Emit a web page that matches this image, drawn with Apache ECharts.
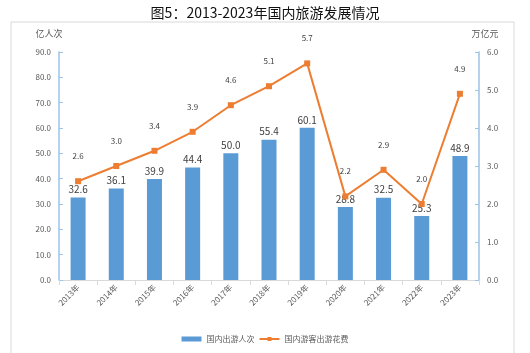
<!DOCTYPE html>
<html>
<head>
<meta charset="utf-8">
<script src="https://cdn.jsdelivr.net/npm/echarts@6/dist/echarts.min.js"></script>
<style>
  html, body { margin: 0; padding: 0; background: #fff; }
  #chart { width: 530px; height: 353px; }
</style>
</head>
<body>
<div id="chart"></div>
<script>
  const years = ["2013年", "2014年", "2015年", "2016年", "2017年", "2018年", "2019年", "2020年", "2021年", "2022年", "2023年"];
  // 国内出游人次（亿人次）
  const trips = [32.6, 36.1, 39.9, 44.4, 50.0, 55.4, 60.1, 28.8, 32.5, 25.3, 48.9];
  // 国内游客出游花费（万亿元）
  const spending = [2.6, 3.0, 3.4, 3.9, 4.6, 5.1, 5.7, 2.2, 2.9, 2.0, 4.9];

  const barColor = "#5b9bd5";
  const lineColor = "#ed7d31";
  const axisColor = "#9dc3e6";
  const textColor = "#595959";
  const font = "'Noto Sans CJK SC', 'Noto Sans', sans-serif";

  const myChart = echarts.init(document.getElementById("chart"));

  const option = {
    animation: false,
    textStyle: { fontFamily: font },
    title: {
      text: "图5：2013-2023年国内旅游发展情况",
      left: "center",
      top: 1,
      textStyle: { fontSize: 14, fontWeight: "normal", color: "#111", fontFamily: font },
    },
    graphic: [
      {
        type: "rect",
        shape: { x: 11, y: 22, width: 503, height: 340 },
        style: { fill: "none", stroke: "#d9d9d9", lineWidth: 1 },
        silent: true,
        z: -1,
      },
    ],
    grid: { left: 59, right: 51, top: 52, bottom: 73 },
    legend: {
      bottom: 5,
      left: "center",
      itemGap: 4,
      itemWidth: 20,
      itemHeight: 5,
      textStyle: { fontSize: 8, color: textColor },
      data: [
        { name: "国内出游人次", icon: "rect" },
        { name: "国内游客出游花费" },
      ],
    },
    xAxis: {
      type: "category",
      data: years,
      axisLine: { lineStyle: { color: "#d9d9d9" } },
      axisTick: { show: true, lineStyle: { color: "#d9d9d9" } },
      axisLabel: { rotate: 45, fontSize: 8, color: textColor, margin: 6 },
    },
    yAxis: [
      {
        type: "value",
        name: "亿人次",
        nameGap: 14,
        nameTextStyle: { fontSize: 9, color: textColor, padding: [0, 0, 0, -20] },
        min: 0,
        max: 90,
        interval: 10,
        axisLine: { show: true, lineStyle: { color: axisColor, width: 1.5 } },
        axisTick: { show: true, inside: true, length: 4, lineStyle: { color: axisColor } },
        axisLabel: { fontSize: 8, color: textColor, formatter: (v) => v.toFixed(1) },
        splitLine: { show: false },
      },
      {
        type: "value",
        name: "万亿元",
        nameGap: 14,
        nameTextStyle: { fontSize: 9, color: textColor, padding: [0, 0, 0, 12] },
        position: "right",
        min: 0,
        max: 6,
        interval: 1,
        axisLine: { show: true, lineStyle: { color: axisColor, width: 1.5 } },
        axisTick: { show: true, inside: true, length: 4, lineStyle: { color: axisColor } },
        axisLabel: { fontSize: 8, color: textColor, formatter: (v) => v.toFixed(1) },
        splitLine: { show: false },
      },
    ],
    series: [
      {
        name: "国内出游人次",
        type: "bar",
        data: trips,
        barWidth: 15,
        itemStyle: { color: barColor },
        label: {
          show: true,
          position: "top",
          distance: 3,
          fontSize: 10,
          color: "#404040",
          formatter: (p) => p.value.toFixed(1),
        },
      },
      {
        name: "国内游客出游花费",
        type: "line",
        yAxisIndex: 1,
        data: spending,
        symbol: "rect",
        symbolSize: 6,
        lineStyle: { color: lineColor, width: 2 },
        itemStyle: { color: lineColor },
        label: {
          show: true,
          position: "top",
          distance: 18,
          fontSize: 8,
          color: "#404040",
          formatter: (p) => p.value.toFixed(1),
        },
        z: 3,
      },
    ],
  };

  myChart.setOption(option);
</script>
</body>
</html>
